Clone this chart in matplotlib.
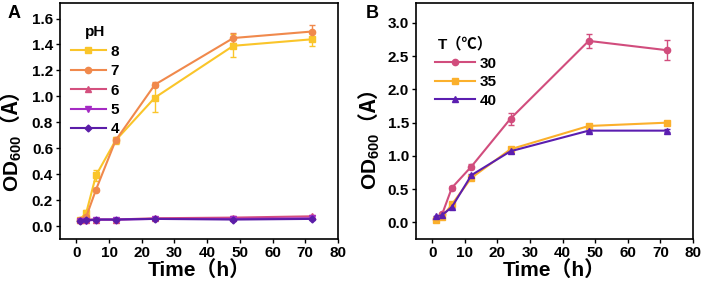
import matplotlib
matplotlib.use("Agg")
import matplotlib.pyplot as plt

plt.rcParams['font.family'] = ['Liberation Sans', 'Noto Sans CJK SC', 'DejaVu Sans']
plt.rcParams['font.weight'] = 'bold'
plt.rcParams['mathtext.fontset'] = 'custom'
plt.rcParams['mathtext.rm'] = 'Liberation Sans:bold'
plt.rcParams['mathtext.bf'] = 'Liberation Sans:bold'
plt.rcParams['mathtext.it'] = 'Liberation Sans:bold'

time = [1, 3, 6, 12, 24, 48, 72]

# panel A: pH
ph_labels = ['8', '7', '6', '5', '4']
ph8 = [0.05, 0.10, 0.39, 0.66, 0.99, 1.39, 1.44]
ph8_err = [0.01, 0.02, 0.04, 0.03, 0.11, 0.09, 0.05]
ph7 = [0.05, 0.07, 0.28, 0.66, 1.09, 1.45, 1.50]
ph7_err = [0.01, 0.01, 0.01, 0.02, 0.02, 0.04, 0.05]
ph6 = [0.05, 0.05, 0.05, 0.05, 0.06, 0.065, 0.075]
ph6_err = [0.01, 0.01, 0.005, 0.005, 0.01, 0.01, 0.01]
ph5 = [0.04, 0.04, 0.05, 0.05, 0.055, 0.055, 0.06]
ph5_err = [0.01, 0.01, 0.005, 0.005, 0.005, 0.005, 0.005]
ph4 = [0.04, 0.045, 0.05, 0.05, 0.055, 0.05, 0.055]
ph4_err = [0.01, 0.01, 0.005, 0.005, 0.005, 0.005, 0.005]

# panel B: temperature
t_labels = ['30', '35', '40']
t30 = [0.05, 0.12, 0.52, 0.84, 1.56, 2.73, 2.59]
t30_err = [0.02, 0.02, 0.03, 0.04, 0.09, 0.10, 0.15]
t35 = [0.04, 0.08, 0.27, 0.67, 1.10, 1.45, 1.50]
t35_err = [0.01, 0.01, 0.02, 0.02, 0.02, 0.03, 0.03]
t40 = [0.09, 0.11, 0.23, 0.71, 1.07, 1.38, 1.38]
t40_err = [0.01, 0.01, 0.02, 0.02, 0.02, 0.02, 0.02]

fig = plt.figure(figsize=(7.09, 2.89), dpi=100)
axA = fig.add_axes([60/709, 1-239/289, 278/709, 236/289])
axB = fig.add_axes([416/709, 1-239/289, 277/709, 236/289])

series_A = [(ph8, ph8_err, '#FAC52A', 's'), (ph7, ph7_err, '#F0894C', 'o'),
            (ph6, ph6_err, '#D4507E', '^'), (ph5, ph5_err, '#A42BC4', 'v'),
            (ph4, ph4_err, '#5B1DA8', 'D')]
hA = []
for (y, e, c, m), lab in zip(series_A, ph_labels):
    cont = axA.errorbar(time, y, yerr=e, color=c, marker=m, markersize=4.5 if m != 'D' else 3.5,
                        lw=1.5, capsize=2.5, elinewidth=1, label=lab)
    hA.append(cont[0])

series_B = [(t30, t30_err, '#D14D7D', 'o'), (t35, t35_err, '#FBB02C', 's'),
            (t40, t40_err, '#5B1EB0', '^')]
hB = []
for (y, e, c, m), lab in zip(series_B, t_labels):
    cont = axB.errorbar(time, y, yerr=e, color=c, marker=m, markersize=4.5,
                        lw=1.5, capsize=2.5, elinewidth=1, label=lab)
    hB.append(cont[0])

axA.set_xlim(-5, 80)
axA.set_ylim(-0.1, 1.72)
axA.set_yticks([0.0, 0.2, 0.4, 0.6, 0.8, 1.0, 1.2, 1.4, 1.6])
axB.set_xlim(-5, 80)
axB.set_ylim(-0.25, 3.3)
axB.set_yticks([0.0, 0.5, 1.0, 1.5, 2.0, 2.5, 3.0])

for ax in (axA, axB):
    ax.set_xticks(range(0, 81, 10))
    ax.tick_params(direction='out', length=3, width=1, labelsize=11, pad=2)
    for lbl in ax.get_xticklabels() + ax.get_yticklabels():
        lbl.set_fontweight('bold')
    for s in ax.spines.values():
        s.set_linewidth(1.2)
    ax.set_xlabel('Time（h）', fontsize=15, fontweight='bold', labelpad=0)
    ax.set_ylabel(r'$\mathbf{OD_{600}}$（A）', fontsize=15, fontweight='bold',
                  family='Noto Sans CJK SC')

axA.yaxis.set_label_coords(-0.128, 0.41)
axB.yaxis.set_label_coords(-0.124, 0.42)

legA = axA.legend(handles=hA, labels=ph_labels, title='pH', loc='upper left',
                  bbox_to_anchor=(0.0, 0.95), frameon=False,
                  prop={'weight': 'bold', 'size': 11}, handlelength=2.3,
                  labelspacing=0.35, handletextpad=0.3, borderaxespad=0.3)
legA.get_title().set_fontweight('bold')
legA.get_title().set_fontsize(11)

legB = axB.legend(handles=hB, labels=t_labels, title='T（℃）', loc='upper left',
                  bbox_to_anchor=(0.03, 0.9), frameon=False,
                  prop={'weight': 'bold', 'size': 11}, handlelength=2.6,
                  labelspacing=0.3, handletextpad=0.3, borderaxespad=0.3)
legB.get_title().set_fontweight('bold')
legB.get_title().set_fontsize(11)

fig.text(8/709, 1-18/289, 'A', fontsize=13, fontweight='bold')
fig.text(366/709, 1-18/289, 'B', fontsize=13, fontweight='bold')

fig.savefig('out.png', dpi=100)
